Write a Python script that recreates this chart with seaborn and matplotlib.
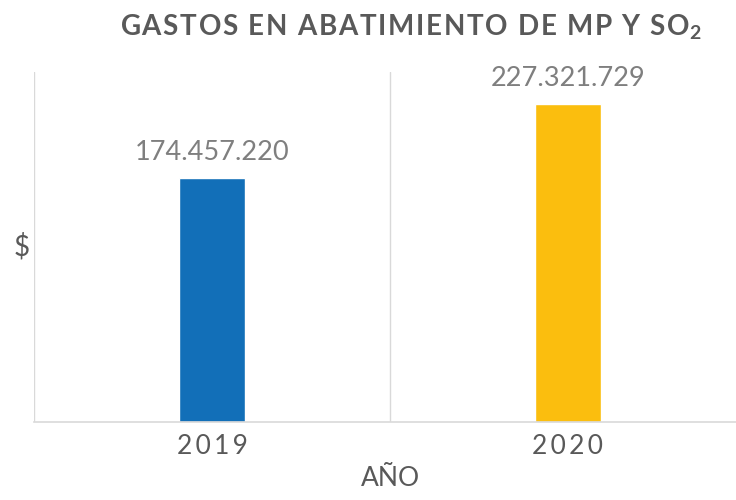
import matplotlib
matplotlib.use("Agg")
import matplotlib.pyplot as plt
import seaborn as sns
import pandas as pd

years = ["2019", "2020"]
gastos = [174457220, 227321729]
etiquetas = ["174.457.220", "227.321.729"]
colores = ["#126FB8", "#FBBE0E"]

sns.set_style("white")
plt.rcParams["font.family"] = ["Lato", "DejaVu Sans"]
plt.rcParams["mathtext.fontset"] = "custom"
plt.rcParams["mathtext.rm"] = "Lato"
plt.rcParams["mathtext.bf"] = "Lato:bold"

HS = "\u200a"  # hair space, for letter spacing
TS = "\u2009"  # thin space


def espaciar(txt, sep):
    return sep.join(txt)


df = pd.DataFrame({"anio": years, "gasto": gastos})

fig = plt.figure(figsize=(7.36, 5), dpi=100)
ax = fig.add_axes([34 / 736, 78 / 500, 712 / 736, 350 / 500])

sns.barplot(data=df, x="anio", y="gasto", hue="anio", palette=colores,
            width=0.185, legend=False, ax=ax, saturation=1)

ax.set_xlim(-0.5, 1.5)
ax.set_ylim(0, 250_000_000)
ax.set_yticks([])

# vertical gridlines between categories
ax.set_xticks([-0.5, 0.5, 1.5], minor=True)
ax.grid(which="minor", axis="x", color="#D9D9D9", linewidth=1)
ax.tick_params(axis="x", which="both", length=0, pad=9)
for s in ["top", "right", "left"]:
    ax.spines[s].set_visible(False)
ax.spines["bottom"].set_color("#D9D9D9")
ax.spines["bottom"].set_linewidth(1.2)

ax.set_xticks([0, 1])
ax.set_xticklabels([espaciar(y, TS) for y in years], fontsize=19, color="#595959")

for i, (v, lab) in enumerate(zip(gastos, etiquetas)):
    ax.annotate(lab, (i, v), xytext=(0, 9), textcoords="offset points",
                ha="center", va="bottom", fontsize=19.5, color="#7F7F7F")

ax.set_xlabel("AÑO", fontsize=19, color="#595959", labelpad=5)
ax.set_ylabel("$", fontsize=20, color="#595959", rotation=0, labelpad=9,
              va="center")

titulo = espaciar("GASTOS EN ABATIMIENTO DE MP Y SO", HS)
fig.text(0.558, 0.945, titulo + r"$_{\mathregular{2}}$",
         ha="center", va="center", fontsize=20, fontweight="bold", color="#595959")

fig.savefig("out.png", dpi=100)
